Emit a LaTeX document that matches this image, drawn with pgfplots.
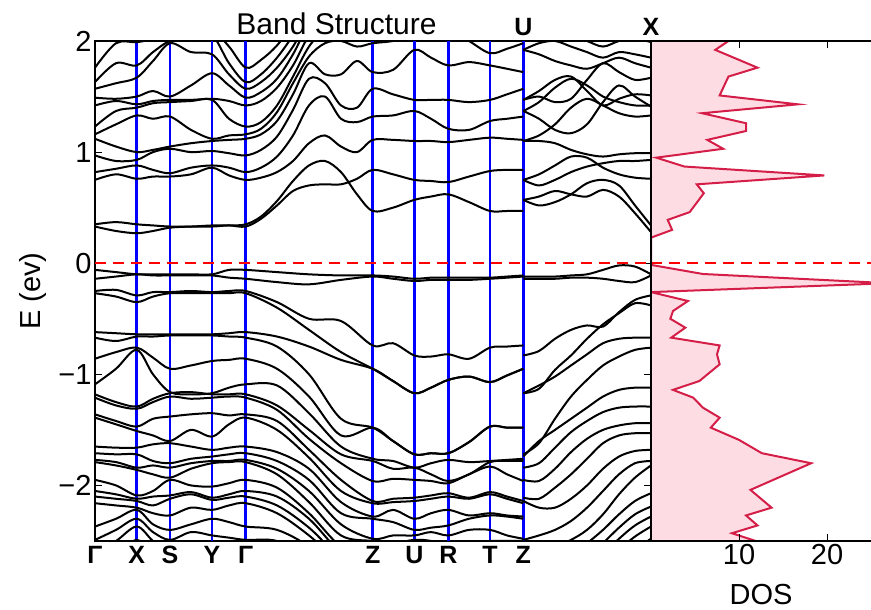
\documentclass[border=0pt]{standalone}
\usepackage{fontspec}
\setmainfont{Liberation Sans}
\usepackage{pgfplots}
\usepackage{pgfplotstable}
\pgfplotsset{compat=1.18}

\definecolor{dosline}{HTML}{D41E48}
\definecolor{dosfill}{HTML}{FDDDE3}

\newcommand{\tickfont}{\fontsize{29}{31}\selectfont}
\newcommand{\kfont}{\fontsize{25}{27}\selectfont\bfseries}

\tikzset{band/.style={black, line width=2pt, smooth, tension=0.55, mark=none}}

% Conduction bands along G-X-S-Y-G-Z-U-R-T-Z
\pgfplotstableread{
k c1 c2 c3 c4 c5 c6 c7 c8 c9 c10 c11 c12 c13 c14
0 0.33 0.35 0.75 0.82 0.97 1.12 1.16 1.23 1.42 1.49 1.57 1.63 1.76 2.05
21 0.29 0.37 0.80 0.85 0.92 1.05 1.25 1.37 1.46 1.48 1.62 1.80 1.98 2.10
41.7 0.27 0.35 0.76 0.88 0.93 1.00 1.33 1.40 1.43 1.50 1.67 1.78 1.99 2.05
58 0.29 0.34 0.78 0.84 1.00 1.02 1.30 1.44 1.46 1.55 1.82 1.90 2.02 2.10
75 0.32 0.33 0.78 0.81 1.03 1.05 1.32 1.45 1.47 1.50 1.98 2.00 2.10 2.20
96 0.33 0.33 0.80 0.86 1.00 1.08 1.20 1.46 1.47 1.60 1.90 2.02 2.10 2.20
117 0.33 0.34 0.86 0.88 1.01 1.10 1.12 1.47 1.48 1.71 1.88 2.05 2.10 2.20
134 0.34 0.34 0.79 0.86 0.99 1.11 1.15 1.30 1.46 1.60 1.70 1.80 1.95 2.10
150.7 0.33 0.35 0.75 0.82 0.97 1.12 1.16 1.23 1.42 1.49 1.57 1.63 1.76 2.05
166 0.40 0.42 0.77 0.86 1.02 1.16 1.21 1.27 1.46 1.54 1.63 1.70 1.83 2.10
182 0.52 0.56 0.82 0.96 1.14 1.28 1.36 1.42 1.58 1.66 1.76 1.85 1.96 2.18
198 0.65 0.74 0.92 1.15 1.38 1.52 1.62 1.68 1.78 1.88 1.95 2.05 2.15 2.28
214 0.70 0.88 1.08 1.42 1.66 1.80 1.86 1.95 2.05 2.15 2.20 2.28 2.35 2.40
230 0.71 0.92 1.15 1.50 1.62 1.70 1.98 2.10 2.20 2.25 2.30 2.35 2.40 2.45
246 0.71 0.82 1.05 1.30 1.42 1.70 2.00 2.15 2.20 2.25 2.30 2.35 2.40 2.45
262 0.76 0.62 1.00 1.27 1.40 1.82 1.95 2.15 2.20 2.25 2.30 2.35 2.40 2.45
277.7 0.84 0.47 1.11 1.32 1.57 1.72 1.98 2.15 2.20 2.25 2.30 2.35 2.40 2.45
298 0.80 0.50 1.11 1.33 1.52 1.74 2.00 2.15 2.20 2.25 2.30 2.35 2.40 2.45
319.3 0.75 0.57 1.10 1.37 1.47 1.92 2.05 2.15 2.20 2.25 2.30 2.35 2.40 2.45
336 0.74 0.60 1.10 1.30 1.47 1.85 2.10 2.15 2.20 2.25 2.30 2.35 2.40 2.45
353.3 0.73 0.62 1.09 1.21 1.47 1.78 2.10 2.15 2.20 2.25 2.30 2.35 2.40 2.45
374 0.78 0.55 1.11 1.20 1.45 1.81 2.00 2.15 2.20 2.25 2.30 2.35 2.40 2.45
395 0.83 0.47 1.13 1.28 1.47 1.78 1.89 2.15 2.20 2.25 2.30 2.35 2.40 2.45
412 0.84 0.47 1.12 1.30 1.52 1.75 1.93 2.15 2.20 2.25 2.30 2.35 2.40 2.45
428.3 0.84 0.47 1.11 1.32 1.57 1.72 1.98 2.15 2.20 2.25 2.30 2.35 2.40 2.45
}\condmain

% Valence bands along G-X-S-Y-G-Z-U-R-T-Z
\pgfplotstableread{
k v1 v2 v3 v4 v5 v6 v7 v8 v9 v10 v11 v12 v13 v14 v15 v16 v17 v18 v19 v20 v21 v22 v23 v24
0 -0.06 -0.14 -0.25 -0.27 -0.62 -0.67 -0.86 -1.09 -1.18 -1.21 -1.36 -1.39 -1.65 -1.71 -1.77 -1.79 -1.95 -2.05 -2.10 -2.16 -2.37 -2.49 -2.60 -2.70
21 -0.08 -0.12 -0.24 -0.30 -0.63 -0.70 -0.80 -0.95 -1.25 -1.28 -1.42 -1.45 -1.66 -1.72 -1.79 -1.82 -2.00 -2.08 -2.12 -2.18 -2.30 -2.40 -2.50 -2.62
41.7 -0.10 -0.10 -0.29 -0.35 -0.64 -0.66 -0.76 -0.78 -1.29 -1.31 -1.47 -1.51 -1.66 -1.72 -1.84 -1.86 -2.09 -2.12 -2.14 -2.20 -2.22 -2.30 -2.37 -2.49
58 -0.10 -0.11 -0.26 -0.30 -0.64 -0.66 -0.85 -1.00 -1.22 -1.25 -1.40 -1.55 -1.63 -1.78 -1.82 -1.90 -2.05 -2.10 -2.18 -2.25 -2.35 -2.42 -2.50 -2.60
75 -0.10 -0.11 -0.26 -0.27 -0.64 -0.65 -0.95 -1.16 -1.17 -1.20 -1.38 -1.60 -1.62 -1.80 -1.84 -1.93 -1.95 -2.09 -2.12 -2.27 -2.40 -2.49 -2.60 -2.70
96 -0.10 -0.11 -0.25 -0.27 -0.64 -0.65 -0.92 -1.18 -1.16 -1.22 -1.36 -1.50 -1.65 -1.76 -1.80 -1.85 -2.00 -2.06 -2.08 -2.20 -2.35 -2.42 -2.55 -2.65
117 -0.10 -0.11 -0.26 -0.27 -0.64 -0.65 -0.88 -1.17 -1.18 -1.21 -1.35 -1.56 -1.68 -1.74 -1.78 -1.80 -2.01 -2.11 -2.13 -2.22 -2.30 -2.45 -2.55 -2.65
134 -0.06 -0.13 -0.25 -0.27 -0.63 -0.66 -0.87 -1.12 -1.18 -1.20 -1.37 -1.45 -1.66 -1.72 -1.78 -1.79 -1.98 -2.08 -2.11 -2.18 -2.33 -2.47 -2.58 -2.68
150.7 -0.06 -0.14 -0.25 -0.27 -0.62 -0.67 -0.86 -1.09 -1.18 -1.21 -1.36 -1.39 -1.65 -1.71 -1.77 -1.79 -1.95 -2.05 -2.10 -2.16 -2.37 -2.49 -2.60 -2.70
182 -0.08 -0.17 -0.35 -0.40 -0.66 -0.75 -0.95 -1.10 -1.28 -1.32 -1.42 -1.50 -1.70 -1.78 -1.85 -1.90 -2.02 -2.10 -2.18 -2.25 -2.40 -2.50 -2.62 -2.72
214 -0.10 -0.19 -0.50 -0.60 -0.75 -1.00 -1.20 -1.35 -1.50 -1.58 -1.68 -1.75 -1.85 -1.95 -2.05 -2.15 -2.25 -2.30 -2.38 -2.45 -2.55 -2.65 -2.75 -2.85
246 -0.11 -0.15 -0.52 -0.80 -0.87 -1.40 -1.55 -1.65 -1.72 -1.80 -1.95 -2.05 -2.15 -2.25 -2.35 -2.45 -2.55 -2.60 -2.65 -2.70 -2.80 -2.90 -3.00 -3.10
277.7 -0.11 -0.12 -0.74 -0.95 -0.95 -1.48 -1.48 -1.76 -1.78 -1.96 -2.14 -2.16 -2.28 -2.30 -2.48 -2.50 -2.65 -2.70 -2.75 -2.80 -2.85 -2.90 -2.95 -3.00
298 -0.12 -0.14 -0.72 -1.06 -1.06 -1.60 -1.60 -1.78 -1.85 -1.94 -2.12 -2.15 -2.22 -2.33 -2.45 -2.52 -2.65 -2.70 -2.75 -2.80 -2.85 -2.90 -2.95 -3.00
319.3 -0.14 -0.16 -0.83 -1.17 -1.17 -1.72 -1.72 -1.84 -1.84 -1.95 -2.11 -2.14 -2.30 -2.40 -2.45 -2.49 -2.65 -2.70 -2.75 -2.80 -2.85 -2.90 -2.95 -3.00
336 -0.13 -0.15 -0.84 -1.12 -1.12 -1.71 -1.71 -1.80 -1.90 -1.96 -2.09 -2.12 -2.25 -2.38 -2.42 -2.50 -2.65 -2.70 -2.75 -2.80 -2.85 -2.90 -2.95 -3.00
353.3 -0.13 -0.15 -0.82 -1.05 -1.05 -1.71 -1.71 -1.77 -1.96 -1.98 -2.07 -2.10 -2.22 -2.36 -2.45 -2.55 -2.65 -2.70 -2.75 -2.80 -2.85 -2.90 -2.95 -3.00
374 -0.13 -0.15 -0.86 -1.02 -1.02 -1.61 -1.61 -1.79 -1.90 -1.90 -2.11 -2.12 -2.27 -2.30 -2.40 -2.52 -2.65 -2.70 -2.75 -2.80 -2.85 -2.90 -2.95 -3.00
395 -0.13 -0.14 -0.76 -1.07 -1.07 -1.47 -1.47 -1.78 -1.79 -1.83 -2.06 -2.08 -2.25 -2.27 -2.40 -2.50 -2.65 -2.70 -2.75 -2.80 -2.85 -2.90 -2.95 -3.00
412 -0.12 -0.13 -0.75 -1.01 -1.01 -1.48 -1.48 -1.77 -1.78 -1.90 -2.10 -2.12 -2.27 -2.28 -2.45 -2.50 -2.65 -2.70 -2.75 -2.80 -2.85 -2.90 -2.95 -3.00
428.3 -0.11 -0.12 -0.74 -0.95 -0.95 -1.48 -1.48 -1.76 -1.78 -1.96 -2.14 -2.16 -2.28 -2.30 -2.48 -2.50 -2.65 -2.70 -2.75 -2.80 -2.85 -2.90 -2.95 -3.00
}\valmain

% Conduction bands along U-X
\pgfplotstableread{
k u1 u2 u3 u4 u5 u6 u7 u8 u9 u10 u11 u12 u13
428.3 0.57 0.57 0.75 0.75 1.10 1.10 1.37 1.37 1.47 1.47 1.92 1.92 2.10
444 0.60 0.52 0.80 0.70 1.10 1.15 1.30 1.45 1.55 1.50 1.88 1.98 2.05
460 0.65 0.55 0.88 0.75 1.08 1.25 1.20 1.58 1.65 1.45 1.82 2.00 2.02
476 0.62 0.62 0.96 0.82 1.02 1.40 1.17 1.66 1.68 1.48 1.78 1.95 2.05
492 0.60 0.72 0.95 0.87 0.98 1.48 1.25 1.60 1.55 1.65 1.75 1.90 2.00
508 0.66 0.75 0.86 0.90 0.96 1.42 1.45 1.50 1.42 1.80 1.80 1.85 1.95
524 0.60 0.70 0.80 0.92 0.98 1.35 1.60 1.45 1.48 1.72 1.85 1.90 2.00
540 0.45 0.52 0.77 0.92 0.99 1.32 1.50 1.42 1.52 1.65 1.80 1.88 2.02
556 0.28 0.34 0.76 0.93 0.99 1.33 1.41 1.42 1.51 1.67 1.76 1.85 1.99
}\condux

% Valence bands along U-X
\pgfplotstableread{
k w1 w2 w3 w4 w5 w6 w7 w8 w9 w10 w11 w12 w13 w14 w15 w16 w17 w18
428.3 -0.12 -0.14 -0.83 -1.17 -1.17 -1.72 -1.74 -1.84 -1.95 -2.11 -2.14 -2.49 -2.60 -2.70 -2.80 -2.90 -3.00 -3.10
444 -0.12 -0.14 -0.79 -1.13 -1.10 -1.62 -1.60 -1.80 -1.96 -2.12 -2.20 -2.45 -2.58 -2.70 -2.80 -2.90 -3.00 -3.10
460 -0.12 -0.14 -0.68 -0.96 -1.02 -1.40 -1.50 -1.66 -1.85 -2.02 -2.20 -2.40 -2.55 -2.68 -2.78 -2.88 -2.98 -3.08
476 -0.11 -0.13 -0.60 -0.83 -0.92 -1.20 -1.40 -1.52 -1.70 -1.90 -2.12 -2.32 -2.49 -2.62 -2.74 -2.84 -2.94 -3.04
492 -0.10 -0.13 -0.56 -0.68 -0.82 -1.05 -1.30 -1.42 -1.58 -1.76 -2.00 -2.20 -2.40 -2.52 -2.66 -2.76 -2.86 -2.96
508 -0.06 -0.14 -0.57 -0.55 -0.72 -0.92 -1.20 -1.34 -1.50 -1.62 -1.85 -2.05 -2.26 -2.40 -2.52 -2.62 -2.74 -2.84
524 -0.02 -0.16 -0.44 -0.45 -0.68 -0.84 -1.14 -1.30 -1.46 -1.55 -1.74 -1.90 -2.08 -2.26 -2.38 -2.48 -2.58 -2.70
540 -0.03 -0.17 -0.33 -0.36 -0.67 -0.78 -1.12 -1.29 -1.44 -1.53 -1.69 -1.80 -1.93 -2.14 -2.26 -2.36 -2.46 -2.58
556 -0.10 -0.11 -0.29 -0.38 -0.67 -0.76 -1.12 -1.29 -1.44 -1.53 -1.68 -1.78 -1.82 -2.07 -2.19 -2.28 -2.37 -2.48
}\valux

\begin{document}
\begin{tikzpicture}
\path[use as bounding box] (0pt,0pt) rectangle (871pt,610pt);

% band structure panel
\begin{axis}[
  name=bands,
  at={(95pt,69pt)}, anchor=south west, scale only axis,
  width=556pt, height=500pt,
  xmin=0, xmax=556, ymin=-2.5, ymax=2,
  axis line style={line width=2pt},
  xtick={0,41.7,75,117,150.7,277.7,319.3,353.3,395,428.3},
  xticklabels={Γ,X,S,Y,Γ,Z,U,R,T,Z},
  xticklabel style={font=\kfont, yshift=-2pt},
  xtick style={draw=none},
  ytick={-2,-1,0,1,2},
  yticklabels={−2,−1,0,1,2},
  yticklabel style={font=\tickfont},
  ytick style={black, line width=1pt},
  tick align=inside, major tick length=7pt,
]
\pgfplotsinvokeforeach{41.7,75,117,150.7,277.7,319.3,353.3,395,428.3}{
  \draw[blue, line width=2.5pt] (axis cs:#1,-2.5) -- (axis cs:#1,2);
}
\pgfplotsinvokeforeach{1,...,14}{\addplot[band] table[x=k,y=c#1]{\condmain};}
\pgfplotsinvokeforeach{1,...,24}{\addplot[band] table[x=k,y=v#1]{\valmain};}
\pgfplotsinvokeforeach{1,...,13}{\addplot[band] table[x=k,y=u#1]{\condux};}
\pgfplotsinvokeforeach{1,...,18}{\addplot[band] table[x=k,y=w#1]{\valux};}
\addplot[color=red, line width=2pt, dash pattern=on 11pt off 7pt] coordinates {(0,0) (556,0)};
\end{axis}

% density of states panel
\begin{axis}[
  at={(bands.south east)}, anchor=south west, scale only axis,
  width=230pt, height=500pt,
  xmin=0, xmax=26.136, ymin=-2.5, ymax=2,
  axis on top,
  xtick={10,20}, ytick=\empty,
  tick align=inside, major tick length=7pt,
  tick style={black, line width=1pt},
  axis line style={line width=2pt},
  /pgf/number format/assume math mode=true,
  ticklabel style={font=\tickfont},
]
\addplot[draw=none, fill=dosfill] coordinates {
(0,-2.55) (12.5,-2.55) (11.9,-2.50) (9.2,-2.43) (12.1,-2.36) (10.8,-2.27) (13.7,-2.20)
(11.3,-2.04) (18.2,-1.80) (12.6,-1.71) (10.0,-1.59) (6.8,-1.48) (7.8,-1.39) (5.9,-1.30)
(4.8,-1.21) (2.5,-1.14) (5.5,-1.06) (7.8,-0.91) (7.5,-0.82) (7.8,-0.74) (2.3,-0.67)
(3.9,-0.58) (2.2,-0.50) (2.5,-0.43) (4.2,-0.34) (0,-0.26) (27,-0.18) (5.9,-0.097)
(0,-0.015) (0,0.23) (2.4,0.30) (1.9,0.39) (4.4,0.46) (6.0,0.63) (5.2,0.71) (19.7,0.79)
(3.8,0.87) (0.6,0.95) (8.2,1.03) (6.4,1.11) (10.8,1.19) (10.8,1.26) (5.8,1.35) (16.7,1.43)
(7.8,1.51) (8.8,1.68) (12.1,1.76) (7.3,1.92) (8.9,2.005) (9.5,2.05) (0,2.05)};
\addplot[dosline, line width=2pt] coordinates {
(12.5,-2.55) (11.9,-2.50) (9.2,-2.43) (12.1,-2.36) (10.8,-2.27) (13.7,-2.20)
(11.3,-2.04) (18.2,-1.80) (12.6,-1.71) (10.0,-1.59) (6.8,-1.48) (7.8,-1.39) (5.9,-1.30)
(4.8,-1.21) (2.5,-1.14) (5.5,-1.06) (7.8,-0.91) (7.5,-0.82) (7.8,-0.74) (2.3,-0.67)
(3.9,-0.58) (2.2,-0.50) (2.5,-0.43) (4.2,-0.34) (0,-0.26) (27,-0.18) (5.9,-0.097)
(0,-0.015) (0,0.23) (2.4,0.30) (1.9,0.39) (4.4,0.46) (6.0,0.63) (5.2,0.71) (19.7,0.79)
(3.8,0.87) (0.6,0.95) (8.2,1.03) (6.4,1.11) (10.8,1.19) (10.8,1.26) (5.8,1.35) (16.7,1.43)
(7.8,1.51) (8.8,1.68) (12.1,1.76) (7.3,1.92) (8.9,2.005) (9.5,2.05)};
\addplot[color=red, line width=2pt, dash pattern=on 11pt off 7pt] coordinates {(0,0) (26.136,0)};
\end{axis}

\node[font=\fontsize{30}{32}\selectfont, anchor=base] at (336.5pt,575pt) {Band Structure};
\node[font=\kfont, anchor=base] at (523.3pt,574pt) {U};
\node[font=\kfont, anchor=base] at (651pt,574pt) {X};
\node[font=\tickfont, rotate=90] at (33pt,319pt) {E (ev)};
\node[font=\tickfont] at (761pt,15pt) {DOS};
\end{tikzpicture}
\end{document}
